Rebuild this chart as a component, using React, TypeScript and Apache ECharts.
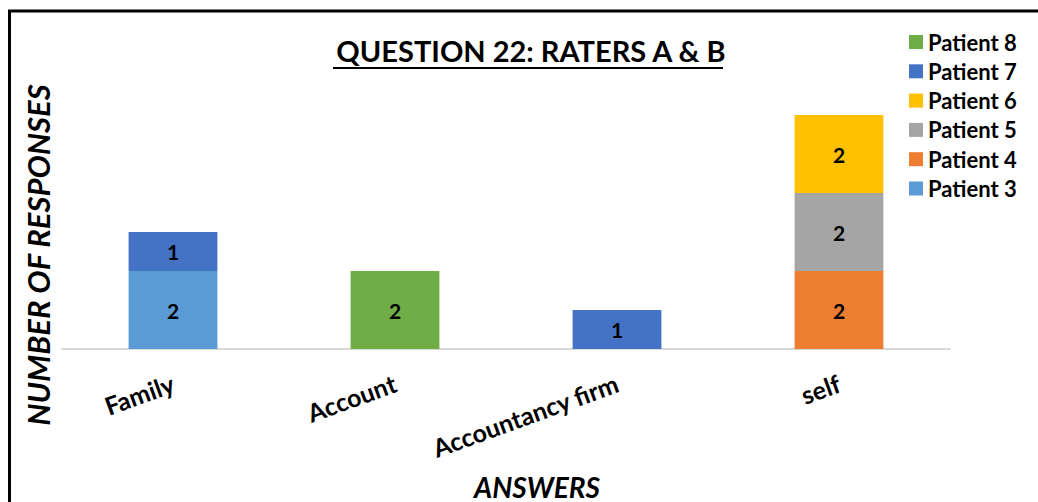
import React, { useEffect, useRef } from "react";
import * as echarts from "echarts";

const categories = ["Family", "Account", "Accountancy firm", "self"];
const seriesNames = ["Patient 3", "Patient 4", "Patient 5", "Patient 6", "Patient 7", "Patient 8"];
const patient3 = [2, null, null, null];
const patient4 = [null, null, null, 2];
const patient5 = [null, null, null, 2];
const patient6 = [null, null, null, 2];
const patient7 = [1, null, 1, null];
const patient8 = [null, 2, null, null];
const colors = ["#5B9BD5", "#ED7D31", "#A5A5A5", "#FFC000", "#4472C4", "#70AD47"];
const legendOrder = ["Patient 8", "Patient 7", "Patient 6", "Patient 5", "Patient 4", "Patient 3"];
const titleText = "QUESTION 22: RATERS A & B";
const xTitle = "ANSWERS";
const yTitle = "NUMBER OF RESPONSES";

const FONT = "Lato, 'Open Sans', sans-serif";

export default function App() {
  const ref = useRef<HTMLDivElement>(null);
  useEffect(() => {
    if (!ref.current) return;
    const chart = echarts.init(ref.current, null, { renderer: "svg" });
    const values = [patient3, patient4, patient5, patient6, patient7, patient8];
    chart.setOption({
      animation: false,
      backgroundColor: "#fff",
      title: {
        text: titleText,
        left: 526,
        top: 31,
        textAlign: "center",
        textStyle: { fontFamily: FONT, fontWeight: "bold", fontSize: 29, color: "#000" },
      },
      legend: {
        orient: "vertical",
        left: 909,
        top: 31,
        padding: 0,
        itemWidth: 14,
        itemHeight: 14,
        itemGap: 7.3,
        icon: "rect",
        data: legendOrder,
        textStyle: { fontFamily: FONT, fontWeight: "bold", fontSize: 22, color: "#000", lineHeight: 22 },
      },
      grid: { left: 62, right: 88, top: 115, bottom: 153, containLabel: false, outerBoundsMode: "none" },
      xAxis: {
        type: "category",
        data: categories,
        axisLine: { show: true, lineStyle: { color: "#d9d9d9", width: 2 } },
        axisTick: { show: false },
        axisLabel: {
          rotate: 20,
          margin: 33,
          interval: 0,
          fontFamily: FONT,
          fontWeight: "bold",
          fontSize: 25,
          color: "#000",
        },
      },
      yAxis: {
        type: "value",
        min: 0,
        max: 6,
        axisLine: { show: false },
        axisTick: { show: false },
        axisLabel: { show: false },
        splitLine: { show: false },
      },
      series: seriesNames.map((name, i) => ({
        name,
        type: "bar",
        stack: "total",
        barWidth: "40%",
        data: values[i],
        itemStyle: { color: colors[i] },
        label: {
          show: true,
          position: "inside",
          fontFamily: FONT,
          fontWeight: "bold",
          fontSize: 21,
          color: "#000",
        },
      })),
      graphic: [
        {
          type: "rect",
          shape: { x: 9.5, y: 11, width: 1200, height: 700 },
          style: { fill: "none", stroke: "#000", lineWidth: 3 },
          silent: true,
        },
        {
          type: "line",
          shape: { x1: 333, y1: 68, x2: 723, y2: 68 },
          style: { stroke: "#000", lineWidth: 2 },
          silent: true,
        },
        {
          type: "text",
          x: 38,
          y: 255,
          rotation: Math.PI / 2,
          style: {
            text: yTitle,
            align: "center",
            verticalAlign: "middle",
            fontFamily: FONT,
            fontWeight: "bold",
            fontStyle: "italic",
            fontSize: 31,
            fill: "#000",
          },
          silent: true,
        },
        {
          type: "text",
          x: 537,
          y: 487,
          style: {
            text: xTitle,
            align: "center",
            verticalAlign: "middle",
            fontFamily: FONT,
            fontWeight: "bold",
            fontStyle: "italic",
            fontSize: 28,
            fill: "#000",
          },
          silent: true,
        },
      ],
    });
    return () => chart.dispose();
  }, []);
  return <div ref={ref} style={{ position: "fixed", left: 0, top: 0, width: 1038, height: 502 }} />;
}
